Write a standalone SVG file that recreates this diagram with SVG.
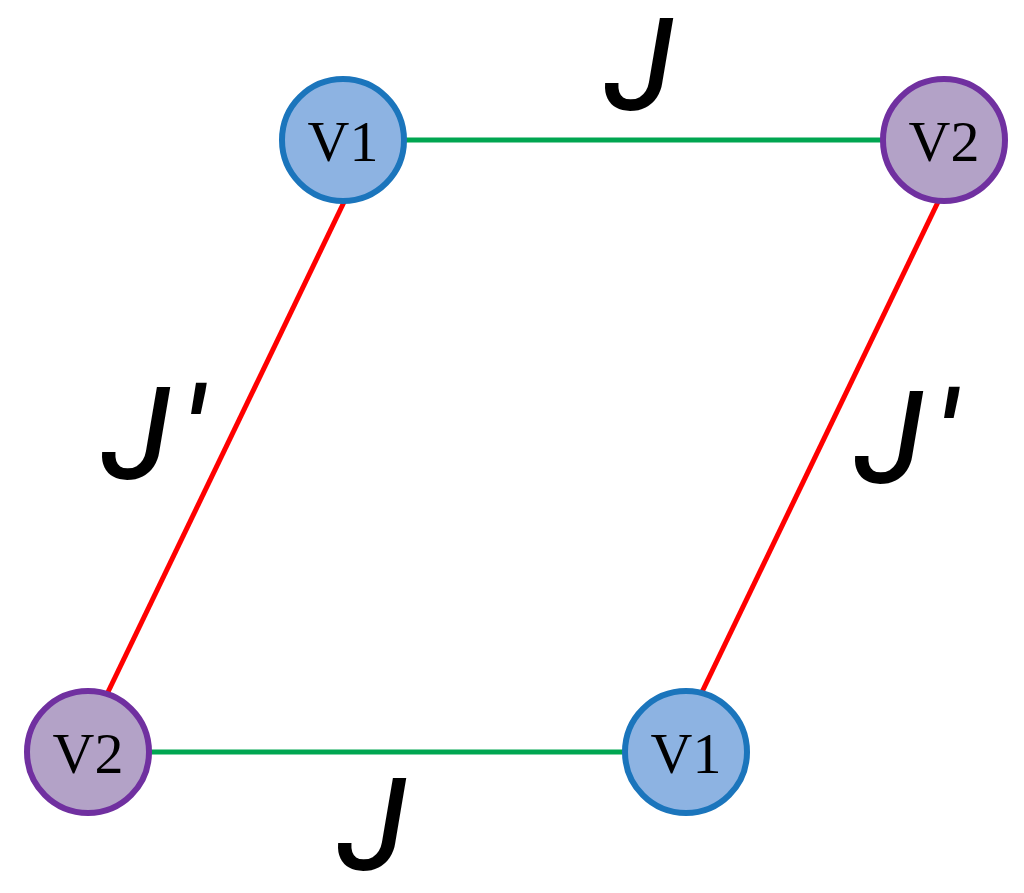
<svg xmlns="http://www.w3.org/2000/svg" width="1024" height="893" viewBox="0 0 1024 893">
<style>
.bg{fill:#ffffff}
.j{stroke:#00a651;stroke-width:5;fill:none}
.jp{stroke:#ff0000;stroke-width:5;fill:none}
.v1 circle{fill:#8db3e2;stroke:#1b75bc;stroke-width:6}
.v2 circle{fill:#b3a2c7;stroke:#7030a0;stroke-width:6}
.nt{font-family:"Liberation Serif",serif;font-size:58px;fill:#000;text-anchor:middle}
.lb{font-family:Roboto,"Liberation Sans",sans-serif;font-style:italic;font-weight:400;font-size:126px;fill:#000;stroke:#000;stroke-width:1.8}
</style>
<rect class="bg" x="0" y="0" width="1024" height="893"/>
<g id="connectors">
<line class="j" x1="405" y1="140" x2="882" y2="140"/>
<line class="j" x1="150" y1="752" x2="624" y2="752"/>
<line class="jp" x1="345" y1="200" x2="108" y2="692"/>
<line class="jp" x1="938" y1="202" x2="702" y2="692"/>
</g>
<g id="node-v1-top" class="v1"><circle cx="343" cy="140" r="61"/><text class="nt" x="343" y="161">V1</text></g>
<g id="node-v2-top" class="v2"><circle cx="944" cy="140" r="61"/><text class="nt" x="944" y="161">V2</text></g>
<g id="node-v2-bottom" class="v2"><circle cx="88" cy="752" r="61"/><text class="nt" x="88" y="773">V2</text></g>
<g id="node-v1-bottom" class="v1"><circle cx="686" cy="752" r="61"/><text class="nt" x="686" y="773">V1</text></g>
<g id="labels">
<text class="lb" x="605" y="109">J</text>
<text class="lb" x="102" y="478">J<tspan dx="12">′</tspan></text>
<text class="lb" x="855" y="482">J<tspan dx="12">′</tspan></text>
<text class="lb" x="338" y="869">J</text>
</g>
</svg>
